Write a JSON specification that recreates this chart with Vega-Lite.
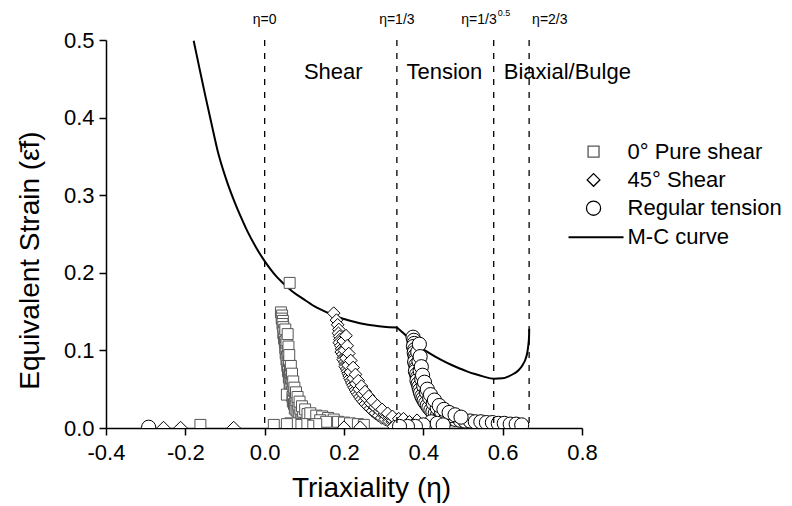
{
  "$schema": "https://vega.github.io/schema/vega-lite/v6.json",
  "width": 476,
  "height": 388,
  "autosize": {"type": "none"},
  "padding": {"left": 106, "top": 40, "right": 210, "bottom": 78},
  "background": "white",
  "config": {"view": {"stroke": null}, "font": "Liberation Sans"},
  "datasets": {
    "mc": [
      {"eta": -0.179, "eps": 0.499, "seg": 1}, {"eta": -0.165, "eps": 0.465, "seg": 1}, {"eta": -0.15, "eps": 0.429, "seg": 1}, {"eta": -0.134, "eps": 0.392, "seg": 1},
      {"eta": -0.1175, "eps": 0.355, "seg": 1}, {"eta": -0.098, "eps": 0.322, "seg": 1}, {"eta": -0.078, "eps": 0.294, "seg": 1}, {"eta": -0.06, "eps": 0.272, "seg": 1},
      {"eta": -0.044, "eps": 0.254, "seg": 1}, {"eta": -0.022, "eps": 0.233, "seg": 1}, {"eta": 0.0, "eps": 0.215, "seg": 1}, {"eta": 0.014, "eps": 0.205, "seg": 1},
      {"eta": 0.03, "eps": 0.195, "seg": 1}, {"eta": 0.048, "eps": 0.186, "seg": 1}, {"eta": 0.07, "eps": 0.176, "seg": 1}, {"eta": 0.098, "eps": 0.166, "seg": 1},
      {"eta": 0.125, "eps": 0.157, "seg": 1}, {"eta": 0.157, "eps": 0.149, "seg": 1}, {"eta": 0.19, "eps": 0.142, "seg": 1}, {"eta": 0.225, "eps": 0.137, "seg": 1},
      {"eta": 0.25, "eps": 0.134, "seg": 1}, {"eta": 0.275, "eps": 0.132, "seg": 1}, {"eta": 0.3, "eps": 0.1305, "seg": 1}, {"eta": 0.3333, "eps": 0.1295, "seg": 1},
      {"eta": 0.3333, "eps": 0.1295, "seg": 2}, {"eta": 0.35, "eps": 0.122, "seg": 2}, {"eta": 0.37, "eps": 0.113, "seg": 2}, {"eta": 0.39, "eps": 0.105, "seg": 2},
      {"eta": 0.41, "eps": 0.098, "seg": 2}, {"eta": 0.43, "eps": 0.092, "seg": 2}, {"eta": 0.45, "eps": 0.0865, "seg": 2}, {"eta": 0.47, "eps": 0.0815, "seg": 2},
      {"eta": 0.49, "eps": 0.077, "seg": 2}, {"eta": 0.51, "eps": 0.073, "seg": 2}, {"eta": 0.53, "eps": 0.0695, "seg": 2}, {"eta": 0.55, "eps": 0.0665, "seg": 2},
      {"eta": 0.578, "eps": 0.0635, "seg": 2}, {"eta": 0.6, "eps": 0.064, "seg": 2}, {"eta": 0.615, "eps": 0.0665, "seg": 2}, {"eta": 0.63, "eps": 0.0705, "seg": 2},
      {"eta": 0.64, "eps": 0.0745, "seg": 2}, {"eta": 0.65, "eps": 0.081, "seg": 2}, {"eta": 0.657, "eps": 0.088, "seg": 2}, {"eta": 0.662, "eps": 0.097, "seg": 2},
      {"eta": 0.665, "eps": 0.108, "seg": 2}, {"eta": 0.6665, "eps": 0.118, "seg": 2}, {"eta": 0.667, "eps": 0.128, "seg": 2}
    ],
    "pts": [
      {"s": "0° Pure shear", "eta": 0.063, "eps": 0.187},
      {"s": "0° Pure shear", "eta": 0.041, "eps": 0.149}, {"s": "0° Pure shear", "eta": 0.044, "eps": 0.145}, {"s": "0° Pure shear", "eta": 0.043, "eps": 0.141},
      {"s": "0° Pure shear", "eta": 0.046, "eps": 0.138}, {"s": "0° Pure shear", "eta": 0.045, "eps": 0.134}, {"s": "0° Pure shear", "eta": 0.047, "eps": 0.13},
      {"s": "0° Pure shear", "eta": 0.049, "eps": 0.126}, {"s": "0° Pure shear", "eta": 0.047, "eps": 0.122}, {"s": "0° Pure shear", "eta": 0.05, "eps": 0.119},
      {"s": "0° Pure shear", "eta": 0.049, "eps": 0.115}, {"s": "0° Pure shear", "eta": 0.051, "eps": 0.111}, {"s": "0° Pure shear", "eta": 0.053, "eps": 0.107},
      {"s": "0° Pure shear", "eta": 0.052, "eps": 0.103}, {"s": "0° Pure shear", "eta": 0.054, "eps": 0.1}, {"s": "0° Pure shear", "eta": 0.053, "eps": 0.096},
      {"s": "0° Pure shear", "eta": 0.056, "eps": 0.092}, {"s": "0° Pure shear", "eta": 0.055, "eps": 0.088}, {"s": "0° Pure shear", "eta": 0.058, "eps": 0.084},
      {"s": "0° Pure shear", "eta": 0.057, "eps": 0.08}, {"s": "0° Pure shear", "eta": 0.06, "eps": 0.077}, {"s": "0° Pure shear", "eta": 0.059, "eps": 0.073},
      {"s": "0° Pure shear", "eta": 0.062, "eps": 0.069}, {"s": "0° Pure shear", "eta": 0.061, "eps": 0.065}, {"s": "0° Pure shear", "eta": 0.064, "eps": 0.061},
      {"s": "0° Pure shear", "eta": 0.063, "eps": 0.057}, {"s": "0° Pure shear", "eta": 0.066, "eps": 0.054}, {"s": "0° Pure shear", "eta": 0.065, "eps": 0.05},
      {"s": "0° Pure shear", "eta": 0.068, "eps": 0.046}, {"s": "0° Pure shear", "eta": 0.067, "eps": 0.043}, {"s": "0° Pure shear", "eta": 0.056, "eps": 0.043},
      {"s": "0° Pure shear", "eta": 0.07, "eps": 0.04}, {"s": "0° Pure shear", "eta": 0.072, "eps": 0.037}, {"s": "0° Pure shear", "eta": 0.071, "eps": 0.034},
      {"s": "0° Pure shear", "eta": 0.074, "eps": 0.031}, {"s": "0° Pure shear", "eta": 0.077, "eps": 0.028}, {"s": "0° Pure shear", "eta": 0.076, "eps": 0.025},
      {"s": "0° Pure shear", "eta": 0.08, "eps": 0.023}, {"s": "0° Pure shear", "eta": 0.083, "eps": 0.021}, {"s": "0° Pure shear", "eta": 0.087, "eps": 0.019},
      {"s": "0° Pure shear", "eta": 0.091, "eps": 0.017}, {"s": "0° Pure shear", "eta": 0.095, "eps": 0.015}, {"s": "0° Pure shear", "eta": 0.1, "eps": 0.013},
      {"s": "0° Pure shear", "eta": 0.104, "eps": 0.011}, {"s": "0° Pure shear", "eta": 0.11, "eps": 0.01}, {"s": "0° Pure shear", "eta": 0.117, "eps": 0.008},
      {"s": "0° Pure shear", "eta": 0.124, "eps": 0.007},
      {"s": "0° Pure shear", "eta": 0.052, "eps": 0.127}, {"s": "0° Pure shear", "eta": 0.055, "eps": 0.113}, {"s": "0° Pure shear", "eta": 0.058, "eps": 0.098},
      {"s": "0° Pure shear", "eta": 0.061, "eps": 0.086}, {"s": "0° Pure shear", "eta": 0.064, "eps": 0.075}, {"s": "0° Pure shear", "eta": 0.067, "eps": 0.064},
      {"s": "0° Pure shear", "eta": 0.07, "eps": 0.056}, {"s": "0° Pure shear", "eta": 0.073, "eps": 0.049}, {"s": "0° Pure shear", "eta": 0.077, "eps": 0.042},
      {"s": "0° Pure shear", "eta": 0.08, "eps": 0.036}, {"s": "0° Pure shear", "eta": 0.085, "eps": 0.03}, {"s": "0° Pure shear", "eta": 0.09, "eps": 0.025},
      {"s": "0° Pure shear", "eta": 0.097, "eps": 0.021},
      {"s": "0° Pure shear", "eta": 0.058, "eps": 0.121}, {"s": "0° Pure shear", "eta": 0.06, "eps": 0.105}, {"s": "0° Pure shear", "eta": 0.062, "eps": 0.094},
      {"s": "0° Pure shear", "eta": 0.066, "eps": 0.08}, {"s": "0° Pure shear", "eta": 0.069, "eps": 0.07}, {"s": "0° Pure shear", "eta": 0.072, "eps": 0.06},
      {"s": "0° Pure shear", "eta": 0.075, "eps": 0.052}, {"s": "0° Pure shear", "eta": 0.079, "eps": 0.046}, {"s": "0° Pure shear", "eta": 0.083, "eps": 0.04},
      {"s": "0° Pure shear", "eta": 0.088, "eps": 0.034}, {"s": "0° Pure shear", "eta": 0.094, "eps": 0.028}, {"s": "0° Pure shear", "eta": 0.102, "eps": 0.024},
      {"s": "0° Pure shear", "eta": 0.108, "eps": 0.018},
      {"s": "0° Pure shear", "eta": 0.115, "eps": 0.019}, {"s": "0° Pure shear", "eta": 0.13, "eps": 0.016}, {"s": "0° Pure shear", "eta": 0.145, "eps": 0.015},
      {"s": "0° Pure shear", "eta": 0.16, "eps": 0.013}, {"s": "0° Pure shear", "eta": 0.174, "eps": 0.011}, {"s": "0° Pure shear", "eta": 0.14, "eps": 0.01},
      {"s": "0° Pure shear", "eta": 0.155, "eps": 0.008}, {"s": "0° Pure shear", "eta": 0.185, "eps": 0.008}, {"s": "0° Pure shear", "eta": 0.2, "eps": 0.007},
      {"s": "0° Pure shear", "eta": 0.215, "eps": 0.006}, {"s": "0° Pure shear", "eta": 0.235, "eps": 0.005}, {"s": "0° Pure shear", "eta": 0.25, "eps": 0.004},
      {"s": "0° Pure shear", "eta": 0.13, "eps": 0.005}, {"s": "0° Pure shear", "eta": 0.11, "eps": 0.003}, {"s": "0° Pure shear", "eta": 0.095, "eps": 0.005},
      {"s": "0° Pure shear", "eta": 0.08, "eps": 0.004}, {"s": "0° Pure shear", "eta": 0.065, "eps": 0.006}, {"s": "0° Pure shear", "eta": 0.056, "eps": 0.005},
      {"s": "0° Pure shear", "eta": 0.023, "eps": 0.004}, {"s": "0° Pure shear", "eta": -0.162, "eps": 0.004},

      {"s": "45° Shear", "eta": 0.174, "eps": 0.148}, {"s": "45° Shear", "eta": 0.181, "eps": 0.139}, {"s": "45° Shear", "eta": 0.184, "eps": 0.133},
      {"s": "45° Shear", "eta": 0.187, "eps": 0.127}, {"s": "45° Shear", "eta": 0.186, "eps": 0.122}, {"s": "45° Shear", "eta": 0.189, "eps": 0.118},
      {"s": "45° Shear", "eta": 0.19, "eps": 0.114}, {"s": "45° Shear", "eta": 0.188, "eps": 0.11}, {"s": "45° Shear", "eta": 0.192, "eps": 0.106},
      {"s": "45° Shear", "eta": 0.194, "eps": 0.102}, {"s": "45° Shear", "eta": 0.193, "eps": 0.098}, {"s": "45° Shear", "eta": 0.197, "eps": 0.095},
      {"s": "45° Shear", "eta": 0.199, "eps": 0.091}, {"s": "45° Shear", "eta": 0.198, "eps": 0.088}, {"s": "45° Shear", "eta": 0.202, "eps": 0.085},
      {"s": "45° Shear", "eta": 0.204, "eps": 0.082}, {"s": "45° Shear", "eta": 0.203, "eps": 0.079}, {"s": "45° Shear", "eta": 0.207, "eps": 0.076},
      {"s": "45° Shear", "eta": 0.209, "eps": 0.073}, {"s": "45° Shear", "eta": 0.211, "eps": 0.07}, {"s": "45° Shear", "eta": 0.213, "eps": 0.067},
      {"s": "45° Shear", "eta": 0.215, "eps": 0.064}, {"s": "45° Shear", "eta": 0.218, "eps": 0.061}, {"s": "45° Shear", "eta": 0.22, "eps": 0.058},
      {"s": "45° Shear", "eta": 0.223, "eps": 0.055}, {"s": "45° Shear", "eta": 0.226, "eps": 0.052}, {"s": "45° Shear", "eta": 0.229, "eps": 0.049},
      {"s": "45° Shear", "eta": 0.232, "eps": 0.046}, {"s": "45° Shear", "eta": 0.236, "eps": 0.043}, {"s": "45° Shear", "eta": 0.24, "eps": 0.04},
      {"s": "45° Shear", "eta": 0.244, "eps": 0.037}, {"s": "45° Shear", "eta": 0.249, "eps": 0.034}, {"s": "45° Shear", "eta": 0.254, "eps": 0.031},
      {"s": "45° Shear", "eta": 0.26, "eps": 0.028}, {"s": "45° Shear", "eta": 0.266, "eps": 0.025}, {"s": "45° Shear", "eta": 0.272, "eps": 0.022},
      {"s": "45° Shear", "eta": 0.279, "eps": 0.019}, {"s": "45° Shear", "eta": 0.287, "eps": 0.016}, {"s": "45° Shear", "eta": 0.295, "eps": 0.013},
      {"s": "45° Shear", "eta": 0.304, "eps": 0.011}, {"s": "45° Shear", "eta": 0.313, "eps": 0.009}, {"s": "45° Shear", "eta": 0.322, "eps": 0.008},
      {"s": "45° Shear", "eta": 0.332, "eps": 0.006}, {"s": "45° Shear", "eta": 0.342, "eps": 0.005},
      {"s": "45° Shear", "eta": 0.198, "eps": 0.112}, {"s": "45° Shear", "eta": 0.201, "eps": 0.1}, {"s": "45° Shear", "eta": 0.205, "eps": 0.09},
      {"s": "45° Shear", "eta": 0.21, "eps": 0.081}, {"s": "45° Shear", "eta": 0.216, "eps": 0.072}, {"s": "45° Shear", "eta": 0.223, "eps": 0.064},
      {"s": "45° Shear", "eta": 0.23, "eps": 0.057}, {"s": "45° Shear", "eta": 0.238, "eps": 0.05}, {"s": "45° Shear", "eta": 0.247, "eps": 0.044},
      {"s": "45° Shear", "eta": 0.257, "eps": 0.038}, {"s": "45° Shear", "eta": 0.267, "eps": 0.032}, {"s": "45° Shear", "eta": 0.278, "eps": 0.027},
      {"s": "45° Shear", "eta": 0.29, "eps": 0.022}, {"s": "45° Shear", "eta": 0.302, "eps": 0.018}, {"s": "45° Shear", "eta": 0.315, "eps": 0.014},
      {"s": "45° Shear", "eta": 0.33, "eps": 0.011},
      {"s": "45° Shear", "eta": 0.205, "eps": 0.119}, {"s": "45° Shear", "eta": 0.208, "eps": 0.106}, {"s": "45° Shear", "eta": 0.212, "eps": 0.096},
      {"s": "45° Shear", "eta": 0.217, "eps": 0.087}, {"s": "45° Shear", "eta": 0.223, "eps": 0.078}, {"s": "45° Shear", "eta": 0.229, "eps": 0.069},
      {"s": "45° Shear", "eta": 0.236, "eps": 0.061}, {"s": "45° Shear", "eta": 0.244, "eps": 0.054}, {"s": "45° Shear", "eta": 0.253, "eps": 0.047},
      {"s": "45° Shear", "eta": 0.262, "eps": 0.041}, {"s": "45° Shear", "eta": 0.272, "eps": 0.035}, {"s": "45° Shear", "eta": 0.284, "eps": 0.029},
      {"s": "45° Shear", "eta": 0.296, "eps": 0.024}, {"s": "45° Shear", "eta": 0.31, "eps": 0.019}, {"s": "45° Shear", "eta": 0.322, "eps": 0.015},
      {"s": "45° Shear", "eta": 0.338, "eps": 0.012},
      {"s": "45° Shear", "eta": 0.35, "eps": 0.012}, {"s": "45° Shear", "eta": 0.365, "eps": 0.008}, {"s": "45° Shear", "eta": 0.384, "eps": 0.01},
      {"s": "45° Shear", "eta": 0.375, "eps": 0.004}, {"s": "45° Shear", "eta": 0.4, "eps": 0.003}, {"s": "45° Shear", "eta": 0.325, "eps": 0.002},
      {"s": "45° Shear", "eta": 0.241, "eps": 0.001}, {"s": "45° Shear", "eta": 0.2, "eps": 0.001}, {"s": "45° Shear", "eta": -0.078, "eps": 0.0005},
      {"s": "45° Shear", "eta": -0.212, "eps": 0.0005}, {"s": "45° Shear", "eta": -0.255, "eps": 0.0005},

      {"s": "Regular tension", "eta": 0.374, "eps": 0.117}, {"s": "Regular tension", "eta": 0.376, "eps": 0.113}, {"s": "Regular tension", "eta": 0.377, "eps": 0.109},
      {"s": "Regular tension", "eta": 0.375, "eps": 0.105}, {"s": "Regular tension", "eta": 0.378, "eps": 0.101}, {"s": "Regular tension", "eta": 0.377, "eps": 0.097},
      {"s": "Regular tension", "eta": 0.379, "eps": 0.093}, {"s": "Regular tension", "eta": 0.38, "eps": 0.089}, {"s": "Regular tension", "eta": 0.378, "eps": 0.085},
      {"s": "Regular tension", "eta": 0.381, "eps": 0.081}, {"s": "Regular tension", "eta": 0.382, "eps": 0.077}, {"s": "Regular tension", "eta": 0.38, "eps": 0.073},
      {"s": "Regular tension", "eta": 0.383, "eps": 0.069}, {"s": "Regular tension", "eta": 0.385, "eps": 0.065}, {"s": "Regular tension", "eta": 0.384, "eps": 0.061},
      {"s": "Regular tension", "eta": 0.387, "eps": 0.057}, {"s": "Regular tension", "eta": 0.389, "eps": 0.053}, {"s": "Regular tension", "eta": 0.391, "eps": 0.049},
      {"s": "Regular tension", "eta": 0.393, "eps": 0.045}, {"s": "Regular tension", "eta": 0.396, "eps": 0.041}, {"s": "Regular tension", "eta": 0.399, "eps": 0.038},
      {"s": "Regular tension", "eta": 0.402, "eps": 0.035}, {"s": "Regular tension", "eta": 0.406, "eps": 0.032}, {"s": "Regular tension", "eta": 0.41, "eps": 0.029},
      {"s": "Regular tension", "eta": 0.414, "eps": 0.026}, {"s": "Regular tension", "eta": 0.419, "eps": 0.023}, {"s": "Regular tension", "eta": 0.424, "eps": 0.021},
      {"s": "Regular tension", "eta": 0.43, "eps": 0.019}, {"s": "Regular tension", "eta": 0.436, "eps": 0.017}, {"s": "Regular tension", "eta": 0.443, "eps": 0.015},
      {"s": "Regular tension", "eta": 0.451, "eps": 0.014}, {"s": "Regular tension", "eta": 0.46, "eps": 0.013}, {"s": "Regular tension", "eta": 0.47, "eps": 0.012},
      {"s": "Regular tension", "eta": 0.481, "eps": 0.011}, {"s": "Regular tension", "eta": 0.493, "eps": 0.01}, {"s": "Regular tension", "eta": 0.505, "eps": 0.009},
      {"s": "Regular tension", "eta": 0.518, "eps": 0.009}, {"s": "Regular tension", "eta": 0.531, "eps": 0.008}, {"s": "Regular tension", "eta": 0.545, "eps": 0.008},
      {"s": "Regular tension", "eta": 0.559, "eps": 0.007}, {"s": "Regular tension", "eta": 0.574, "eps": 0.007}, {"s": "Regular tension", "eta": 0.589, "eps": 0.006},
      {"s": "Regular tension", "eta": 0.604, "eps": 0.006}, {"s": "Regular tension", "eta": 0.619, "eps": 0.005}, {"s": "Regular tension", "eta": 0.634, "eps": 0.005},
      {"s": "Regular tension", "eta": 0.648, "eps": 0.004},
      {"s": "Regular tension", "eta": 0.386, "eps": 0.098}, {"s": "Regular tension", "eta": 0.389, "eps": 0.086}, {"s": "Regular tension", "eta": 0.392, "eps": 0.074},
      {"s": "Regular tension", "eta": 0.396, "eps": 0.063}, {"s": "Regular tension", "eta": 0.401, "eps": 0.054}, {"s": "Regular tension", "eta": 0.408, "eps": 0.046},
      {"s": "Regular tension", "eta": 0.416, "eps": 0.039}, {"s": "Regular tension", "eta": 0.425, "eps": 0.032}, {"s": "Regular tension", "eta": 0.435, "eps": 0.026},
      {"s": "Regular tension", "eta": 0.446, "eps": 0.021}, {"s": "Regular tension", "eta": 0.458, "eps": 0.018}, {"s": "Regular tension", "eta": 0.47, "eps": 0.016},
      {"s": "Regular tension", "eta": 0.39, "eps": 0.108}, {"s": "Regular tension", "eta": 0.392, "eps": 0.092}, {"s": "Regular tension", "eta": 0.395, "eps": 0.079},
      {"s": "Regular tension", "eta": 0.398, "eps": 0.068}, {"s": "Regular tension", "eta": 0.403, "eps": 0.059}, {"s": "Regular tension", "eta": 0.41, "eps": 0.05},
      {"s": "Regular tension", "eta": 0.418, "eps": 0.043}, {"s": "Regular tension", "eta": 0.428, "eps": 0.036}, {"s": "Regular tension", "eta": 0.44, "eps": 0.029},
      {"s": "Regular tension", "eta": 0.452, "eps": 0.024}, {"s": "Regular tension", "eta": 0.465, "eps": 0.02}, {"s": "Regular tension", "eta": 0.48, "eps": 0.017},
      {"s": "Regular tension", "eta": 0.495, "eps": 0.014},
      {"s": "Regular tension", "eta": 0.42, "eps": 0.008}, {"s": "Regular tension", "eta": 0.435, "eps": 0.006}, {"s": "Regular tension", "eta": 0.45, "eps": 0.004},
      {"s": "Regular tension", "eta": 0.4, "eps": 0.004}, {"s": "Regular tension", "eta": 0.38, "eps": 0.002}, {"s": "Regular tension", "eta": 0.36, "eps": 0.002},
      {"s": "Regular tension", "eta": 0.34, "eps": 0.002}, {"s": "Regular tension", "eta": -0.2925, "eps": 0.001}
    ],
    "vlines": [{"eta": 0}, {"eta": 0.3333}, {"eta": 0.5774}, {"eta": 0.6667}],
    "regions": [{"eta": 0.173, "t": "Shear"}, {"eta": 0.453, "t": "Tension"}, {"eta": 0.763, "t": "Biaxial/Bulge"}]
  },
  "layer": [
    {
      "data": {"name": "mc"},
      "mark": {"type": "line", "color": "black", "strokeWidth": 2, "clip": true, "interpolate": "monotone"},
      "encoding": {
        "x": {
          "field": "eta", "type": "quantitative",
          "scale": {"domain": [-0.4, 0.8], "nice": false, "zero": false},
          "axis": {
            "title": "Triaxiality (η)",
            "values": [-0.4, -0.3, -0.2, -0.1, 0, 0.1, 0.2, 0.3, 0.4, 0.5, 0.6, 0.7, 0.8],
            "labelExpr": "round(datum.value*10)%2==0 ? replace(format(datum.value,'.1f'),'−','-') : ''",
            "tickSize": {"condition": {"test": "round(datum.value*10)%2==0", "value": 7}, "value": 4},
            "grid": false, "domainColor": "black", "domainWidth": 1.5, "tickColor": "black", "tickWidth": 1.5,
            "labelFontSize": 22, "labelColor": "black", "labelPadding": 7, "labelFlush": false, "labelOverlap": false,
            "titleFontSize": 28, "titleFontWeight": "normal", "titleColor": "black",
            "titleX": 265, "titleY": 68, "titleBaseline": "alphabetic", "titleAlign": "center"
          }
        },
        "y": {
          "field": "eps", "type": "quantitative",
          "scale": {"domain": [0, 0.5], "nice": false, "zero": false},
          "axis": {
            "title": "Equivalent Strain (ε̄f)",
            "values": [0, 0.05, 0.1, 0.15, 0.2, 0.25, 0.3, 0.35, 0.4, 0.45, 0.5],
            "labelExpr": "round(datum.value*20)%2==0 ? format(datum.value,'.1f') : ''",
            "tickSize": {"condition": {"test": "round(datum.value*20)%2==0", "value": 7}, "value": 4},
            "grid": false, "domainColor": "black", "domainWidth": 1.5, "tickColor": "black", "tickWidth": 1.5,
            "labelFontSize": 22, "labelColor": "black", "labelPadding": 5, "labelFlush": false, "labelOverlap": false,
            "titleFontSize": 28, "titleFontWeight": "normal", "titleColor": "black",
            "titleX": -68, "titleY": 220, "titleAngle": -90, "titleBaseline": "alphabetic", "titleAlign": "center"
          }
        },
        "detail": {"field": "seg", "type": "nominal"}
      }
    },
    {
      "data": {"name": "pts"},
      "mark": {"type": "point", "filled": true, "fill": "white", "strokeWidth": 1, "opacity": 1, "clip": true},
      "encoding": {
        "x": {"field": "eta", "type": "quantitative"},
        "y": {"field": "eps", "type": "quantitative"},
        "shape": {
          "field": "s", "type": "nominal",
          "scale": {"domain": ["0° Pure shear", "45° Shear", "Regular tension"], "range": ["square", "diamond", "circle"]},
          "legend": null
        },
        "size": {
          "field": "s", "type": "nominal",
          "scale": {"domain": ["0° Pure shear", "45° Shear", "Regular tension"], "range": [120, 200, 150]},
          "legend": null
        },
        "stroke": {"condition": {"test": "datum.s == '0° Pure shear'", "value": "#555"}, "value": "black"}
      }
    },
    {
      "data": {"name": "vlines"},
      "mark": {"type": "rule", "color": "black", "strokeWidth": 1.3, "strokeDash": [6, 7]},
      "encoding": {"x": {"field": "eta", "type": "quantitative"}}
    },
    {
      "data": {"name": "regions"},
      "mark": {"type": "text", "fontSize": 22, "align": "center", "baseline": "alphabetic", "color": "black"},
      "encoding": {
        "x": {"field": "eta", "type": "quantitative"},
        "y": {"datum": 0.45, "type": "quantitative"},
        "text": {"field": "t"}
      }
    },
    {
      "data": {"values": [{"eta": 0, "t": "η=0"}, {"eta": 0.3333, "t": "η=1/3"}]},
      "mark": {"type": "text", "fontSize": 14, "align": "center", "baseline": "alphabetic", "color": "black"},
      "encoding": {
        "x": {"field": "eta", "type": "quantitative"},
        "y": {"datum": 0.5205, "type": "quantitative"},
        "text": {"field": "t"}
      }
    },
    {
      "data": {"values": [{"eta": 0.5774, "t": "η=1/3"}]},
      "mark": {"type": "text", "fontSize": 14, "align": "right", "dx": 3, "baseline": "alphabetic", "color": "black"},
      "encoding": {
        "x": {"field": "eta", "type": "quantitative"},
        "y": {"datum": 0.5205, "type": "quantitative"},
        "text": {"field": "t"}
      }
    },
    {
      "data": {"values": [{"eta": 0.5774, "t": "0.5"}]},
      "mark": {"type": "text", "fontSize": 9, "align": "left", "dx": 4, "dy": -8, "baseline": "alphabetic", "color": "black"},
      "encoding": {
        "x": {"field": "eta", "type": "quantitative"},
        "y": {"datum": 0.5205, "type": "quantitative"},
        "text": {"field": "t"}
      }
    },
    {
      "data": {"values": [{"eta": 0.6667, "t": "η=2/3"}]},
      "mark": {"type": "text", "fontSize": 14, "align": "left", "dx": 3, "baseline": "alphabetic", "color": "black"},
      "encoding": {
        "x": {"field": "eta", "type": "quantitative"},
        "y": {"datum": 0.5205, "type": "quantitative"},
        "text": {"field": "t"}
      }
    },
    {
      "data": {"values": [{"s": "0° Pure shear"}]},
      "encoding": {"y": {"datum": 0.3561, "type": "quantitative"}},
      "layer": [
        {
          "mark": {"type": "point", "filled": true, "fill": "white", "stroke": "#555", "strokeWidth": 1.3, "opacity": 1},
          "encoding": {
            "x": {"datum": 0.8291, "type": "quantitative"},
            "shape": {"field": "s", "type": "nominal", "legend": null},
            "size": {"field": "s", "type": "nominal", "legend": null}
          }
        },
        {
          "mark": {"type": "text", "fontSize": 22, "align": "left", "baseline": "middle", "color": "black"},
          "encoding": {"x": {"datum": 0.9148, "type": "quantitative"}, "text": {"field": "s"}}
        }
      ]
    },
    {
      "data": {"values": [{"s": "45° Shear"}]},
      "encoding": {"y": {"datum": 0.3197, "type": "quantitative"}},
      "layer": [
        {
          "mark": {"type": "point", "filled": true, "fill": "white", "stroke": "black", "strokeWidth": 1.3, "opacity": 1},
          "encoding": {
            "x": {"datum": 0.8291, "type": "quantitative"},
            "shape": {"field": "s", "type": "nominal", "legend": null},
            "size": {"field": "s", "type": "nominal", "legend": null}
          }
        },
        {
          "mark": {"type": "text", "fontSize": 22, "align": "left", "baseline": "middle", "color": "black"},
          "encoding": {"x": {"datum": 0.9148, "type": "quantitative"}, "text": {"field": "s"}}
        }
      ]
    },
    {
      "data": {"values": [{"s": "Regular tension"}]},
      "encoding": {"y": {"datum": 0.2833, "type": "quantitative"}},
      "layer": [
        {
          "mark": {"type": "point", "filled": true, "fill": "white", "stroke": "black", "strokeWidth": 1.3, "opacity": 1},
          "encoding": {
            "x": {"datum": 0.8291, "type": "quantitative"},
            "shape": {"field": "s", "type": "nominal", "legend": null},
            "size": {"field": "s", "type": "nominal", "legend": null}
          }
        },
        {
          "mark": {"type": "text", "fontSize": 22, "align": "left", "baseline": "middle", "color": "black"},
          "encoding": {"x": {"datum": 0.9148, "type": "quantitative"}, "text": {"field": "s"}}
        }
      ]
    },
    {
      "data": {"values": [{"s": "M-C curve"}]},
      "encoding": {"y": {"datum": 0.2459, "type": "quantitative"}},
      "layer": [
        {
          "mark": {"type": "rule", "color": "black", "strokeWidth": 2},
          "encoding": {"x": {"datum": 0.766, "type": "quantitative"}, "x2": {"datum": 0.9047}}
        },
        {
          "mark": {"type": "text", "fontSize": 22, "align": "left", "baseline": "middle", "color": "black"},
          "encoding": {"x": {"datum": 0.9148, "type": "quantitative"}, "text": {"field": "s"}}
        }
      ]
    }
  ]
}
